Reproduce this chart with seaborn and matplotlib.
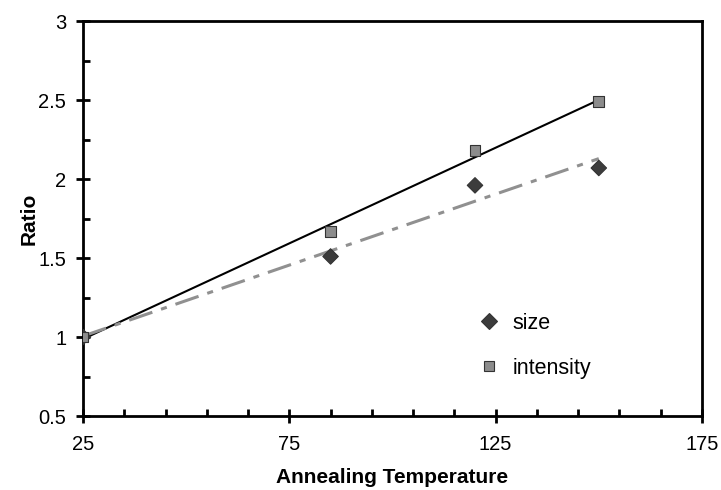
import numpy as np
import pandas as pd
import matplotlib
matplotlib.use("Agg")
import matplotlib.pyplot as plt
import seaborn as sns
from matplotlib.ticker import MultipleLocator, FixedLocator

# Data
temperature = [25, 85, 120, 150]
size_ratio = [1.00, 1.51, 1.96, 2.07]
intensity_ratio = [1.00, 1.67, 2.18, 2.49]
series_names = ["size", "intensity"]

sns.set_theme(style="white")
plt.rcParams['font.family'] = ['Liberation Sans', 'DejaVu Sans']
plt.rcParams['text.color'] = 'black'
plt.rcParams['axes.labelcolor'] = 'black'

df = pd.DataFrame({
    "Annealing Temperature": temperature * 2,
    "Ratio": size_ratio + intensity_ratio,
    "series": [series_names[0]] * len(temperature) + [series_names[1]] * len(temperature),
})

fig = plt.figure(figsize=(7.21, 4.9), dpi=100)
ax = fig.add_axes([0.1151, 0.151, 0.8585, 0.806])

# Trend lines (linear fits)
sns.regplot(x=temperature, y=intensity_ratio, ax=ax, scatter=False, ci=None,
            truncate=True, line_kws=dict(color="black", lw=1.5, zorder=2))
sns.regplot(x=temperature, y=size_ratio, ax=ax, scatter=False, ci=None,
            truncate=True, line_kws=dict(color="#909090", lw=2.2,
                                         linestyle=(0, (8, 3, 2, 3)), zorder=2))

sns.scatterplot(data=df, x="Annealing Temperature", y="Ratio", hue="series",
                style="series", markers={"size": "D", "intensity": "s"},
                palette={"size": "#3c3c3c", "intensity": "#8c8c8c"},
                s=62, edgecolor="#333333", linewidth=0.8, ax=ax, zorder=3,
                legend=True)

ax.set_xlim(25, 175)
ax.set_ylim(0.5, 3)
ax.xaxis.set_major_locator(FixedLocator([25, 75, 125, 175]))
ax.xaxis.set_minor_locator(FixedLocator(list(range(35, 175, 10))))
ax.yaxis.set_major_locator(MultipleLocator(0.5))
ax.yaxis.set_minor_locator(MultipleLocator(0.25))
ax.set_yticklabels([f"{v:g}" for v in ax.get_yticks()])

for sp in ax.spines.values():
    sp.set_color("black")
    sp.set_linewidth(2)

ax.tick_params(which="major", direction="inout", length=10, width=2,
               colors="black", labelsize=14.5, left=True, bottom=True)
ax.tick_params(which="minor", direction="in", length=5, width=2,
               colors="black", left=True, bottom=True)
ax.tick_params(axis="y", which="major", pad=7)
ax.tick_params(axis="x", which="major", pad=9)

ax.set_xlabel("Annealing Temperature", fontsize=15, fontweight="bold", labelpad=10)
ax.set_ylabel("Ratio", fontsize=15, fontweight="bold", labelpad=0)

handles, labels = ax.get_legend_handles_labels()
ax.legend(handles=handles, labels=labels, frameon=False, loc="upper left",
          bbox_to_anchor=(0.59, 0.31), fontsize=15.5, labelspacing=1.1,
          handletextpad=0.1, markerscale=1.0, title=None)

fig.savefig("out.png", dpi=100)
